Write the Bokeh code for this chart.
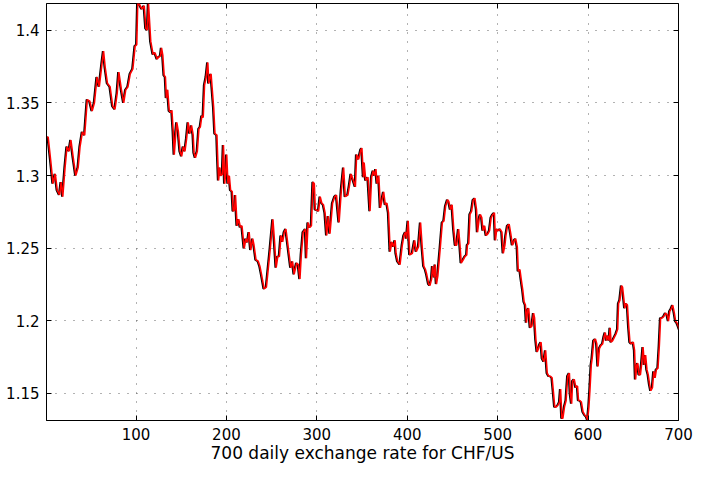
from bokeh.plotting import figure
from bokeh.models import Range1d, FixedTicker, LinearAxis
from bokeh.embed import file_html
from bokeh.resources import INLINE

days = [1, 1.8, 4.7, 7.2, 9.7, 11.9, 14.4, 16.2, 18.0, 20.5, 22.7, 24.9, 27.0, 29.6, 32.4, 35.0,
        37.1, 39.7, 42.2, 45.1, 47.9, 50.5, 53.0, 55.9, 58.4, 61.3, 63.1, 64.9, 67.4, 70.3, 73.2,
        75.7, 78.2, 80.0, 82.9, 85.4, 87.6, 90.1, 92.6, 95.5, 98.0, 99.8, 100.9, 102.7, 105.6,
        108.1, 109.9, 111.7, 112.8, 115.3, 117.9, 120.0, 122.5,
        123.6, 126.1, 127.2, 128.6, 130.1, 131.5, 132.6, 134.0, 135.8, 137.6, 138.7, 140.2, 141.3,
        143.1, 144.1, 145.9, 147.7, 149.5, 151.3, 153.1, 155.0, 156.7, 158.6, 160.4, 162.2, 163.2,
        164.7, 166.8, 168.6, 170.1, 171.9, 173.3, 174.8, 176.6, 178.4, 179.5, 180.9, 182.0, 183.1,
        184.9, 186.3, 188.5, 189.2, 190.3, 191.7, 192.8, 194.6, 195.7, 197.1, 198.2, 199.3, 200.7,
        202.2, 203.6, 205.4, 206.5, 207.9, 209.0, 210.8, 212.6, 214.4, 216.2, 218.7, 220.5, 222.3,
        224.1, 225.9, 228.1, 229.5, 231.7, 234.2, 236.0, 237.8,
        240.7, 243.2, 245.0, 247.5, 250.4, 252.2, 254.0, 255.8, 257.6, 259.4, 261.2, 263.0, 264.8,
        266.6, 268.4, 270.2, 272.1, 273.9, 276.7, 278.5, 280.3, 281.8, 283.9, 286.5, 287.5, 289.3,
        291.2, 293.0, 294.8, 296.2, 297.3, 300.9, 302.7, 304.5, 306.3, 308.1, 309.9, 311.7, 313.5,
        316.4, 318.9, 320.7, 323.6, 326.1, 328.6, 330.4, 333.3, 335.1, 336.9, 339.4, 341.6, 343.0,
        345.2, 347.7, 348.8, 350.6,
        351.3, 353.1, 355.6, 357.8, 359.6, 361.4, 362.8, 364.3, 365.7, 367.5, 369.3, 371.1, 372.9,
        374.7, 376.5, 378.3, 380.1, 382.0, 383.8, 385.6, 386.6, 388.4, 391.0, 393.5, 395.3, 397.1,
        398.2, 400.0, 401.8, 404.7, 407.2, 409.0, 411.5, 413.7, 415.5, 417.3, 419.1, 420.5, 422.7,
        424.1, 425.9, 427.0, 428.8, 429.9, 431.3, 432.8, 434.2, 435.6, 437.8, 439.6, 441.4, 443.6,
        445.0, 446.8, 448.6, 450.4, 452.2, 453.7, 455.8, 457.3, 458.7, 460.9, 463.0, 464.8,
        465.5, 467.0, 468.4, 470.2, 472.0, 473.8, 475.6, 476.7, 478.5, 479.9, 481.4, 482.8, 484.6,
        486.4, 488.2, 490.0, 491.8, 493.6, 495.4, 496.5, 498.0, 499.8, 501.6, 503.7, 505.2, 507.0,
        508.1, 509.9, 511.7, 513.5, 515.3, 516.3, 517.4, 518.9, 520.7, 521.8, 523.6, 525.0, 526.8,
        528.2, 529.7, 530.8, 532.2, 533.3, 535.1, 536.9, 538.7, 539.8, 541.2, 542.7, 544.1, 545.9,
        547.0, 548.4, 550.2, 552.0, 553.8, 555.6, 557.4, 559.2, 560.7, 562.1, 563.9, 565.7, 567.5,
        568.6, 570.0, 571.1, 572.9, 574.7, 576.5, 578.3,
        579.4, 580.8, 581.9, 583.7, 585.5, 587.3, 588.4, 589.8, 591.6, 593.4, 595.3, 597.1, 598.5,
        599.9, 601.0, 602.5, 603.5, 605.3, 607.1, 608.6, 610.0, 611.5, 613.3, 615.1, 616.5, 618.0,
        619.4, 620.8, 622.3, 623.4, 624.4, 626.2, 628.0, 629.8, 631.7, 632.7, 634.2, 636.0, 637.1,
        638.5, 639.6, 641.0, 642.5, 643.9, 645.3, 646.8, 649.0, 650.4, 651.5, 652.9, 654.0, 655.4,
        656.9, 658.3, 659.8, 661.2, 662.6, 664.1, 665.5, 667.0, 668.4, 670.2, 671.7, 673.1, 674.5,
        676.3, 677.8, 679.2, 681.0, 682.8, 684.6, 686.4, 687.9, 689.3, 691.1, 692.6, 694.4, 695.8,
        697.2, 698.7, 700]

rate = [1.3260, 1.3267, 1.3100, 1.2944, 1.3011, 1.2899, 1.2866, 1.2955, 1.2855, 1.3055, 1.3200,
        1.3167, 1.3245, 1.3122, 1.3000, 1.3055, 1.3200, 1.3300, 1.3278, 1.3523, 1.3512, 1.3445,
        1.3501, 1.3679, 1.3612, 1.3768, 1.3857, 1.3746, 1.3635, 1.3612, 1.3479, 1.3456, 1.3568,
        1.3713, 1.3590, 1.3501, 1.3590, 1.3612, 1.3701, 1.3735, 1.3891, 1.3902, 1.4185, 1.4180,
        1.4147, 1.4169, 1.4013, 1.4002, 1.4185, 1.3924, 1.3835, 1.3846, 1.3802,
        1.3813, 1.3824, 1.3880, 1.3830, 1.3690, 1.3679, 1.3534, 1.3590, 1.3445, 1.3434, 1.3450,
        1.3300, 1.3144, 1.3300, 1.3367, 1.3300, 1.3167, 1.3133, 1.3200, 1.3167, 1.3256, 1.3367,
        1.3289, 1.3345, 1.3280, 1.3156, 1.3122, 1.3167, 1.3323, 1.3334, 1.3412, 1.3400, 1.3623,
        1.3679, 1.3779, 1.3634, 1.3679, 1.3700, 1.3612, 1.3467, 1.3289, 1.3278, 1.3144, 1.2966,
        1.3055, 1.2999, 1.3010, 1.3211, 1.2944, 1.3020, 1.3144, 1.2944, 1.2999, 1.2900, 1.2890,
        1.2755, 1.2760, 1.2866, 1.2654, 1.2700, 1.2644, 1.2654, 1.2498, 1.2565, 1.2540, 1.2610,
        1.2487, 1.2565, 1.2520, 1.2420, 1.2410, 1.2376, 1.2320,
        1.2220, 1.2231, 1.2342, 1.2498, 1.2699, 1.2543, 1.2365, 1.2443, 1.2443, 1.2587, 1.2543,
        1.2610, 1.2632, 1.2543, 1.2454, 1.2365, 1.2409, 1.2320, 1.2398, 1.2387, 1.2287, 1.2454,
        1.2610, 1.2632, 1.2431, 1.2677, 1.2643, 1.2654, 1.2955, 1.2944, 1.2766, 1.2755, 1.2855,
        1.2810, 1.2799, 1.2743, 1.2587, 1.2721, 1.2599, 1.2810, 1.2855, 1.2866, 1.2677, 1.2899,
        1.3055, 1.2855, 1.2866, 1.2933, 1.3011, 1.2966, 1.2922, 1.3144, 1.3111, 1.3178, 1.3189,
        1.2988,
        1.3089, 1.2966, 1.2988, 1.2755, 1.2988, 1.3033, 1.2999, 1.3044, 1.2944, 1.2999, 1.2777,
        1.2833, 1.2888, 1.2799, 1.2810, 1.2743, 1.2476, 1.2543, 1.2510, 1.2554, 1.2465, 1.2409,
        1.2387, 1.2521, 1.2587, 1.2610, 1.2565, 1.2688, 1.2454, 1.2465, 1.2554, 1.2476, 1.2510,
        1.2677, 1.2510, 1.2376, 1.2353, 1.2320, 1.2253, 1.2242, 1.2287, 1.2376, 1.2298, 1.2387,
        1.2253, 1.2309, 1.2409, 1.2510, 1.2677, 1.2688, 1.2788, 1.2833, 1.2821, 1.2766, 1.2799,
        1.2632, 1.2521, 1.2521, 1.2632, 1.2521, 1.2398, 1.2420, 1.2443, 1.2454,
        1.2521, 1.2532, 1.2732, 1.2755, 1.2832, 1.2844, 1.2766, 1.2610, 1.2699, 1.2732, 1.2710,
        1.2621, 1.2654, 1.2587, 1.2599, 1.2621, 1.2710, 1.2732, 1.2743, 1.2554, 1.2632, 1.2621,
        1.2632, 1.2610, 1.2465, 1.2521, 1.2587, 1.2654, 1.2665, 1.2599, 1.2521, 1.2532, 1.2554,
        1.2565, 1.2509, 1.2342, 1.2353, 1.2287, 1.2209, 1.2131, 1.2108, 1.1986, 1.2075, 1.2086,
        1.1952, 1.1964, 1.2053, 1.2019, 1.1874, 1.1785, 1.1808, 1.1841, 1.1852, 1.1741, 1.1718,
        1.1796, 1.1640, 1.1618, 1.1618, 1.1607, 1.1507, 1.1407, 1.1407, 1.1418, 1.1440, 1.1529,
        1.1328, 1.1328, 1.1407, 1.1451, 1.1618, 1.1640,
        1.1496, 1.1429, 1.1585, 1.1596, 1.1540, 1.1551, 1.1451, 1.1451, 1.1440, 1.1373, 1.1351,
        1.1340, 1.1317, 1.1407, 1.1518, 1.1696, 1.1741, 1.1863, 1.1874, 1.1841, 1.1685, 1.1808,
        1.1830, 1.1841, 1.1886, 1.1919, 1.1863, 1.1897, 1.1863, 1.1952, 1.1852, 1.1863, 1.1886,
        1.1908, 1.1941, 1.2119, 1.2142, 1.2242, 1.2231, 1.2153, 1.2086, 1.2119, 1.2108, 1.1963,
        1.1852, 1.1841, 1.1852, 1.1796, 1.1596, 1.1696, 1.1707, 1.1629, 1.1629, 1.1707, 1.1819,
        1.1696, 1.1763, 1.1663, 1.1629, 1.1562, 1.1518, 1.1540, 1.1652, 1.1607, 1.1663, 1.1674,
        1.1830, 1.2019, 1.2019, 1.2030, 1.2053, 1.2041, 1.1997, 1.2064, 1.2086, 1.2108, 1.2053,
        1.1997, 1.1986, 1.1964, 1.1940]

# red curve: one-step-ahead forecast (previous observation), drawn one day later
forecast_lag_days = 1.0
forecast_days = [d + forecast_lag_days for d in days]
forecast_rate = list(rate)

x_ticks = [100, 200, 300, 400, 500, 600, 700]
y_ticks = [1.15, 1.2, 1.25, 1.3, 1.35, 1.4]
y_tick_labels = ["1.15", "1.2", "1.25", "1.3", "1.35", "1.4"]
x_label = "700 daily exchange rate for CHF/US"

FONT = "DejaVu Sans"

p = figure(width=693, height=465, output_backend="svg", toolbar_location=None,
           x_range=Range1d(1, 700), y_range=Range1d(1.1313, 1.4185),
           min_border_left=46, min_border_right=15, min_border_top=3, min_border_bottom=30,
           background_fill_color="white", border_fill_color="white")

p.outline_line_color = "black"
p.outline_line_width = 1
p.outline_line_alpha = 1

def style_axis(ax, ticks, show_labels):
    ax.ticker = FixedTicker(ticks=ticks)
    ax.major_tick_in = 5
    ax.major_tick_out = 0
    ax.minor_tick_in = 0
    ax.minor_tick_out = 0
    ax.major_tick_line_color = "black"
    ax.axis_line_color = "black"
    if show_labels:
        ax.major_label_text_font = FONT
        ax.major_label_text_font_size = "15px"
        ax.major_label_text_color = "black"
    else:
        # mirrored MATLAB-style ticks on the top and right edges, without labels
        ax.major_label_text_color = None
        ax.major_label_text_font_size = "1px"
        ax.major_label_standoff = 0
        ax.axis_line_color = None

style_axis(p.xaxis[0], x_ticks, True)
style_axis(p.yaxis[0], y_ticks, True)
p.yaxis[0].major_label_overrides = {t: s for t, s in zip(y_ticks, y_tick_labels)}
p.xaxis[0].major_label_standoff = 7
p.yaxis[0].major_label_standoff = 7
p.xaxis[0].axis_label = x_label
p.xaxis[0].axis_label_text_font = FONT
p.xaxis[0].axis_label_text_font_size = "17px"
p.xaxis[0].axis_label_text_font_style = "normal"
p.xaxis[0].axis_label_text_color = "black"
p.xaxis[0].axis_label_standoff = 0

top_axis = LinearAxis()
right_axis = LinearAxis()
style_axis(top_axis, x_ticks, False)
style_axis(right_axis, y_ticks, False)
p.add_layout(top_axis, "above")
p.add_layout(right_axis, "right")

p.xgrid.ticker = FixedTicker(ticks=x_ticks)
p.ygrid.ticker = FixedTicker(ticks=y_ticks)
for g in (p.xgrid[0], p.ygrid[0]):
    g.grid_line_color = "#555555"
    g.grid_line_dash = "1 8"
    g.grid_line_width = 1
    g.grid_line_alpha = 0.9

p.line(days, rate, line_color="black", line_width=1.6)
p.line(forecast_days, forecast_rate, line_color="red", line_width=1.6)

open("out.html", "w").write(file_html(p, INLINE))
